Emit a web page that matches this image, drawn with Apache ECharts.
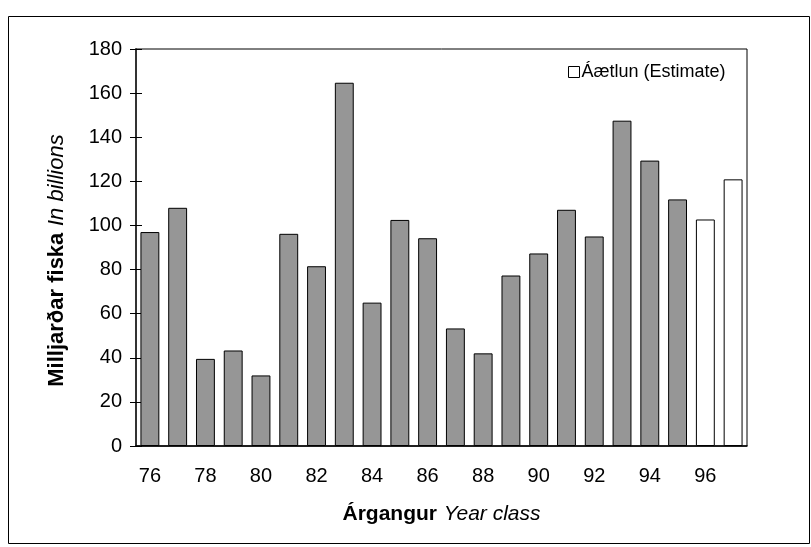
<!DOCTYPE html>
<html>
<head>
<meta charset="utf-8">
<script src="https://cdn.jsdelivr.net/npm/echarts@6/dist/echarts.min.js"></script>
<style>
  html, body { margin: 0; padding: 0; background: #fff; }
  #main { width: 811px; height: 547px; }
</style>
</head>
<body>
<div id="main"></div>
<script>
// year classes
var years = ['76','77','78','79','80','81','82','83','84','85','86','87','88','89','90','91','92','93','94','95','96','97'];
// measured (grey bars), billions
var measured = [97, 108, 39.5, 43.3, 32, 96.2, 81.5, 164.7, 65, 102.5, 94.2, 53.3, 42, 77.3, 87.3, 107.1, 95, 147.5, 129.4, 111.8, '-', '-'];
// estimate (white bars)
var estimate = ['-','-','-','-','-','-','-','-','-','-','-','-','-','-','-','-','-','-','-','-', 102.7, 120.9];
var yTicks = [0, 20, 40, 60, 80, 100, 120, 140, 160, 180];

var myChart = echarts.init(document.getElementById('main'));

var fontName = 'Liberation Sans';

var option = {
    animation: false,
    textStyle: { fontFamily: fontName, color: '#000' },
    graphic: [{
        type: 'rect',
        shape: { x: 8.5, y: 16.5, width: 801, height: 527 },
        style: { fill: 'none', stroke: '#000', lineWidth: 1 }
    }],
    legend: {
        data: ['Áætlun (Estimate)'],
        left: 563,
        top: 58,
        icon: 'rect',
        itemWidth: 11,
        itemHeight: 11,
        itemGap: 4,
        textStyle: { fontSize: 18, color: '#000', fontFamily: fontName, padding: [0, 0, 0, -3] },
        itemStyle: { color: '#fff', borderColor: '#000', borderWidth: 1 }
    },
    grid: {
        left: 136,
        right: 64,
        top: 49,
        bottom: 101,
        show: true,
        borderColor: '#000',
        borderWidth: 1
    },
    xAxis: {
        type: 'category',
        data: years,
        axisLine: { lineStyle: { color: '#000', width: 1.5 } },
        axisTick: { interval: 0, length: 6, lineStyle: { color: '#000' } },
        axisLabel: { interval: 1, margin: 20, fontSize: 20, color: '#000', fontFamily: fontName },
        name: '{b|Árgangur}  {i|Year class}',
        nameLocation: 'middle',
        nameGap: 58,
        nameTextStyle: {
            rich: {
                b: { fontSize: 21, fontWeight: 'bold', fontFamily: fontName, color: '#000' },
                i: { fontSize: 21, fontStyle: 'italic', fontFamily: fontName, color: '#000' }
            }
        }
    },
    yAxis: [{
        type: 'value',
        min: yTicks[0],
        max: yTicks[yTicks.length - 1],
        interval: 20,
        splitLine: { show: false },
        axisLine: { show: true, lineStyle: { color: '#333', width: 2 } },
        axisTick: { show: true, length: 6, lineStyle: { color: '#000' } },
        axisLabel: { margin: 14, fontSize: 20, color: '#000', fontFamily: fontName },
        name: '{b|Milljarðar fiska}  {i|In billions}',
        nameLocation: 'middle',
        nameGap: 68,
        nameTextStyle: {
            padding: [0, 0, 0, -26],
            rich: {
                b: { fontSize: 22, fontWeight: 'bold', fontFamily: fontName, color: '#000' },
                i: { fontSize: 22, fontStyle: 'italic', fontFamily: fontName, color: '#000' }
            }
        }
    }, {
        type: 'value',
        position: 'left',
        min: yTicks[0],
        max: yTicks[yTicks.length - 1],
        interval: 20,
        splitLine: { show: false },
        axisLine: { show: false },
        axisTick: { show: true, inside: true, length: 6, lineStyle: { color: '#000' } },
        axisLabel: { show: false }
    }],
    series: [{
        name: 'Mælt',
        type: 'bar',
        data: measured,
        barWidth: '68%',
        barGap: '-100%',
        itemStyle: { color: '#969696', borderColor: '#000', borderWidth: 1 }
    }, {
        name: 'Áætlun (Estimate)',
        type: 'bar',
        data: estimate,
        barWidth: '68%',
        barGap: '-100%',
        itemStyle: { color: '#fff', borderColor: '#000', borderWidth: 1 }
    }]
};

myChart.setOption(option);
</script>
</body>
</html>
